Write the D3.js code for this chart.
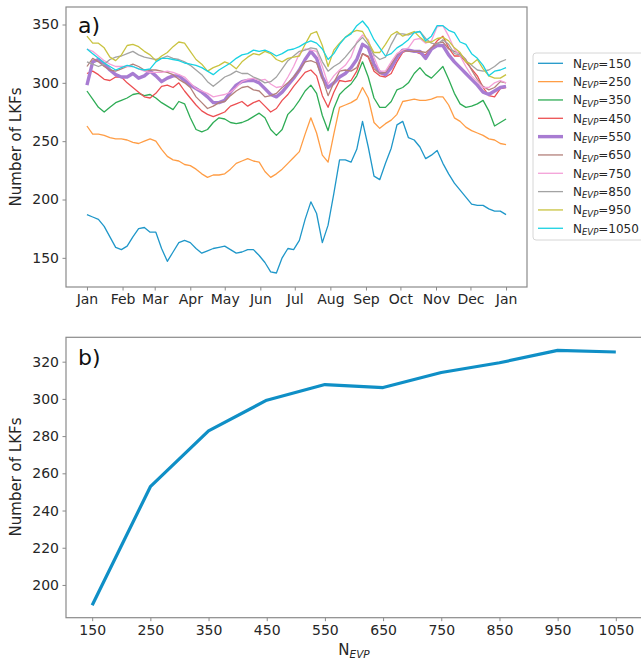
<!DOCTYPE html>
<html><head><meta charset="utf-8">
<script src="https://cdn.jsdelivr.net/npm/d3@7/dist/d3.min.js"></script>
<style>body{margin:0;background:#fff;}svg{display:block;font-family:"DejaVu Sans",sans-serif;}</style>
</head><body>
<svg id="c" width="641" height="662"></svg>
<script>
// ---------- data ----------
const days = [0,5,10,15,20,25,30,35,40,45,50,55,60,65,70,75,80,85,90,95,100,105,110,115,120,125,130,135,140,145,150,155,160,165,170,175,180,185,190,195,200,205,210,215,220,225,230,235,240,245,250,255,260,265,270,275,280,285,290,295,300,305,310,315,320,325,330,335,340,345,350,355,360,365];
const monthDays = [0,31,59,90,120,151,181,212,243,273,304,334,365];
const monthLabels = ["Jan","Feb","Mar","Apr","May","Jun","Jul","Aug","Sep","Oct","Nov","Dec","Jan"];
const seriesNames = ["150","250","350","450","550","650","750","850","950","1050"];
const seriesColors = ["#1f97c9","#ff9d45","#2eac55","#ec4f52","#a87cd2","#b3807a","#f4a0d8","#a3a3a3","#c9c340","#19d2e2"];

const n150 = [187,185,183,177,168,159,157,160,168,175,176,172,172,158,147,155,163,165,163,158,154,156,158,159,160,157,154,155,157,157,152,146,138,137,150,158,157,165,183,198,188,163,178,205,234,234,232,243,267,245,220,217,231,244,264,267,253,251,245,235,238,242,231,222,214,208,202,196,195,195,192,190,190,187];
const n250 = [263,256,256,255,253,252,252,251,249,248,250,252,250,243,237,234,233,230,229,226,222,219,221,221,222,226,231,233,235,233,232,224,219,222,226,231,236,241,256,270,257,238,232,256,279,281,283,286,296,287,266,261,265,268,273,284,285,286,285,285,286,288,288,281,270,267,262,259,257,255,252,251,248,247];
const n350 = [293,286,279,275,279,283,285,287,290,291,289,290,287,283,280,277,284,282,270,260,258,260,266,270,269,266,265,266,268,271,274,270,260,255,260,273,278,285,293,298,291,272,259,278,290,295,299,306,318,305,287,279,279,284,294,296,300,308,313,307,304,309,314,303,291,282,279,280,282,285,276,263,266,269];
const n450 = [308,310,307,303,302,305,305,300,296,292,288,287,291,297,298,296,300,293,287,281,276,273,271,273,275,280,282,284,280,283,285,280,275,278,285,290,297,303,309,311,306,289,279,292,302,301,302,310,325,322,310,306,305,308,318,326,328,327,325,324,330,336,340,330,323,323,318,312,306,296,289,288,295,296];
const n550 = [298,318,320,316,311,307,305,305,308,304,306,310,306,301,304,306,306,302,298,295,292,288,283,283,285,292,298,301,302,302,300,295,290,288,292,298,304,311,320,327,321,305,296,300,305,308,313,320,333,330,316,309,307,313,322,328,328,327,327,321,329,332,332,324,318,313,308,303,298,292,290,293,296,297];
const n650 = [314,321,318,314,311,310,312,314,316,314,311,311,311,310,309,307,303,300,296,288,283,278,280,283,284,289,293,296,297,294,293,288,289,291,296,300,305,311,318,319,317,304,289,300,310,311,310,313,325,323,312,308,309,316,324,328,327,327,327,326,330,334,335,329,327,325,320,311,303,297,294,296,301,300];
const n750 = [329,327,323,319,316,314,314,314,314,312,310,309,309,309,310,309,307,305,300,295,293,291,288,289,290,292,296,301,303,304,302,303,299,296,297,305,314,325,329,328,327,314,299,306,311,315,322,335,341,337,322,310,310,318,325,328,330,337,338,334,336,348,349,340,329,323,314,306,301,296,296,300,302,300];
const n850 = [318,316,314,316,320,322,323,325,327,324,322,321,320,321,323,321,320,318,315,311,307,301,297,301,305,307,310,308,308,305,303,300,301,305,312,319,323,327,328,330,329,318,310,314,317,322,328,334,339,333,324,320,322,333,342,342,341,343,344,338,334,333,337,333,325,324,319,315,311,310,311,314,318,320];
const n950 = [340,334,334,330,322,319,324,332,333,331,327,324,319,323,326,331,335,334,327,320,316,310,313,315,318,316,312,318,322,325,324,327,325,320,318,321,322,323,333,342,344,332,314,328,334,339,343,345,344,335,326,326,333,341,344,340,342,344,339,335,335,338,339,336,330,326,318,316,320,312,306,304,304,307];
const n1050 = [329,325,321,317,314,311,313,315,314,312,311,312,318,321,321,320,319,317,316,315,313,310,307,311,314,317,321,324,325,328,327,328,326,323,325,328,329,331,334,336,334,329,320,325,333,339,342,349,353,347,337,330,323,325,330,333,337,343,344,336,340,349,349,345,343,335,333,325,321,315,306,310,311,313];
const seriesValues = [n150,n250,n350,n450,n550,n650,n750,n850,n950,n1050];

const nevp = [150,250,350,450,550,650,750,850,950,1050];
const meanLKF = [189.1,252.8,282.8,299.3,307.7,306.1,314.2,319.4,326.1,325.2];
const yTicksTop = [150,200,250,300,350];
const yTicksBottom = [200,220,240,260,280,300,320];

// ---------- drawing ----------
const svg = d3.select("#c");
const txt = "#262626", spine = "#8a8a8a";

function frame(x0,y0,x1,y1){
  svg.append("rect").attr("x",x0).attr("y",y0).attr("width",x1-x0).attr("height",y1-y0)
    .attr("fill","none").attr("stroke",spine).attr("stroke-width",1.2);
}
function styleAxis(g){
  g.select(".domain").remove();
  g.selectAll(".tick line").attr("stroke",spine).attr("stroke-width",1);
  g.selectAll(".tick text").attr("fill",txt).style("font-size","14px").style("font-family","DejaVu Sans");
}

// Panel a
const xA = d3.scaleLinear().domain([-18.25,383.25]).range([66,527]);
const yA = d3.scaleLinear().domain([125,365]).range([287,7]);

svg.append("g").attr("transform","translate(0,287)")
  .call(d3.axisBottom(xA).tickValues(monthDays).tickFormat((d,i)=>monthLabels[i]).tickSize(3.5).tickPadding(3.5))
  .call(styleAxis);
svg.append("g").attr("transform","translate(66,0)")
  .call(d3.axisLeft(yA).tickValues(yTicksTop).tickFormat(d3.format("d")).tickSize(3.5).tickPadding(3.5))
  .call(styleAxis);

const lineA = d3.line().x((v,i)=>xA(days[i])).y(v=>yA(v));
const gA = svg.append("g");
seriesValues.forEach((vals,k)=>{
  gA.append("path").attr("d",lineA(vals)).attr("fill","none")
    .attr("stroke",seriesColors[k]).attr("stroke-width", k===4?3.4:1.3)
    .attr("stroke-linejoin","round");
});
frame(66,7,527,287);

svg.append("text").attr("x",78).attr("y",33).attr("fill","#111").style("font-size","22px").text("a)");
svg.append("text").attr("transform","translate(21,147) rotate(-90)").attr("text-anchor","middle")
  .attr("fill",txt).style("font-size","15px").text("Number of LKFs");

// Legend
const lg = svg.append("g");
lg.append("rect").attr("x",533).attr("y",53).attr("width",115).attr("height",187).attr("rx",3)
  .attr("fill","#fff").attr("stroke","#d6d6d6").attr("stroke-width",1);
seriesNames.forEach((name,k)=>{
  const yy = 63.3 + k*18.33;
  lg.append("line").attr("x1",538).attr("x2",563).attr("y1",yy).attr("y2",yy)
    .attr("stroke",seriesColors[k]).attr("stroke-width",k===4?3.4:1.3);
  const t = lg.append("text").attr("x",573).attr("y",yy+4.3).attr("fill",txt).style("font-size","12px");
  t.append("tspan").text("N");
  t.append("tspan").attr("dy",2.5).style("font-size","8.5px").style("font-style","italic").text("EVP");
  t.append("tspan").attr("dy",-2.5).text("="+name);
});

// Panel b
const xB = d3.scaleLinear().domain([105,1095]).range([66,642]);
const yB = d3.scaleLinear().domain([182.4,333.1]).range([617.7,337.3]);
svg.append("g").attr("transform","translate(0,617.7)")
  .call(d3.axisBottom(xB).tickValues(nevp).tickFormat(d3.format("d")).tickSize(3.5).tickPadding(3.5))
  .call(styleAxis);
svg.append("g").attr("transform","translate(66,0)")
  .call(d3.axisLeft(yB).tickValues(yTicksBottom).tickFormat(d3.format("d")).tickSize(3.5).tickPadding(3.5))
  .call(styleAxis);
const lineB = d3.line().x((v,i)=>xB(nevp[i])).y(v=>yB(v));
svg.append("path").attr("d",lineB(meanLKF)).attr("fill","none").attr("stroke","#0f8fc6")
  .attr("stroke-width",3.2).attr("stroke-linejoin","round");
frame(66,337.3,642,617.7);

svg.append("text").attr("x",78).attr("y",365).attr("fill","#111").style("font-size","22px").text("b)");
svg.append("text").attr("transform","translate(21,477) rotate(-90)").attr("text-anchor","middle")
  .attr("fill",txt).style("font-size","15px").text("Number of LKFs");
const xl = svg.append("text").attr("x",354).attr("y",655).attr("text-anchor","middle").attr("fill",txt).style("font-size","15px");
xl.append("tspan").text("N");
xl.append("tspan").attr("dy",3).style("font-size","10.5px").style("font-style","italic").text("EVP");
</script>
</body></html>
